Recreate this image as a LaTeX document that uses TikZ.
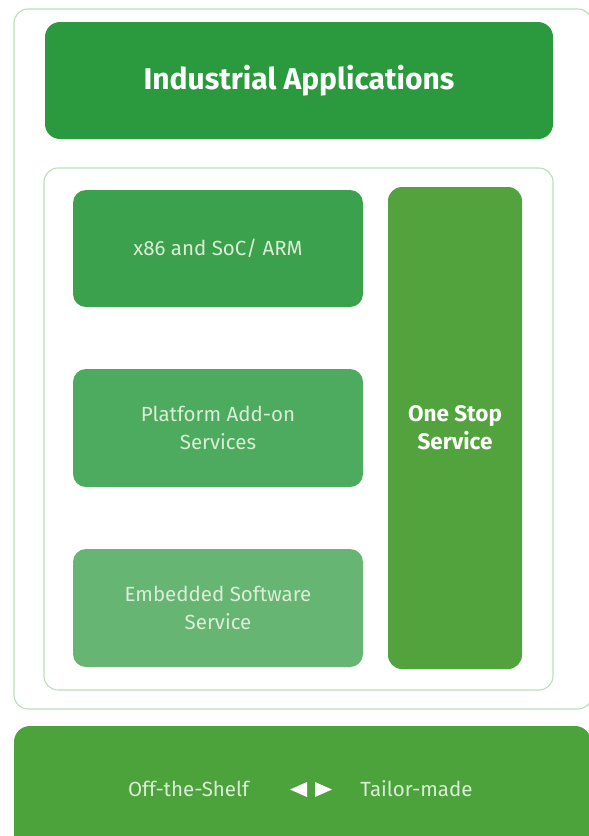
\documentclass[tikz,border=0pt]{standalone}
\usepackage{fontspec}
\setmainfont{Fira Sans}
\usetikzlibrary{positioning}
\definecolor{indgreen}{rgb}{0.17,0.6,0.24}
\definecolor{cpugreen}{rgb}{0.23,0.63,0.3}
\definecolor{platgreen}{rgb}{0.3,0.67,0.37}
\definecolor{embgreen}{rgb}{0.4,0.71,0.45}
\definecolor{onegreen}{rgb}{0.32,0.64,0.24}
\definecolor{shelfgreen}{rgb}{0.3,0.64,0.23}
\definecolor{framegreen}{rgb}{0.72,0.87,0.73}
\definecolor{txtgreen}{rgb}{0.86,0.93,0.84}

\begin{document}
\begin{tikzpicture}[line cap=round,line join=round,x=1pt,y=1pt,
  box/.style={rounded corners=13pt,inner sep=0pt,align=center,text=txtgreen,
    font=\fontsize{20.5}{28}\selectfont},
  boldbox/.style={box,text=white,font=\bfseries\fontsize{22.5}{28}\selectfont},
  frame/.style={draw=framegreen,line width=1.1pt,rounded corners=14pt}]
\useasboundingbox (0,0) rectangle (589,-836);
\clip (0,0) rectangle (589,-836);
% frames
\draw [frame] (14,-9) rectangle (592,-709);
\draw [frame] (44,-168) rectangle (553,-690);
% top block
\node[boldbox,fill=indgreen,minimum width=508,minimum height=117,rounded corners=15pt,
  font=\bfseries\fontsize{30}{34}\selectfont] (ind) at (299,-80.5) {Industrial Applications};
% left column
\node[box,fill=cpugreen,minimum width=290,minimum height=117] (cpu) at (218,-248.5) {x86 and SoC/ ARM};
\node[box,fill=platgreen,minimum width=290,minimum height=118] (plat) at (218,-428) {Platform Add-on\\Services};
\node[box,fill=embgreen,minimum width=290,minimum height=118] (emb) at (218,-608) {Embedded Software\\Service};
% right column
\node[boldbox,fill=onegreen,minimum width=134,minimum height=482,rounded corners=14pt] (one) at (455,-428) {One Stop\\Service};
% bottom band
\node[box,fill=shelfgreen,minimum width=577,minimum height=124,rounded corners=16pt] (shelf) at (302.5,-788) {};
\node[text=txtgreen,font=\fontsize{20.5}{28}\selectfont] (off) at (188.5,-789) {Off-the-Shelf};
\node[text=txtgreen,font=\fontsize{20.5}{28}\selectfont] (tailor) at (416.5,-789) {Tailor-made};
\coordinate (mid) at (311,-789.5);
\fill [white] ([xshift=-21]mid) -- ([xshift=-4,yshift=7.5]mid) -- ([xshift=-4,yshift=-7.5]mid) -- cycle;
\fill [white] ([xshift=21]mid) -- ([xshift=4,yshift=7.5]mid) -- ([xshift=4,yshift=-7.5]mid) -- cycle;
\end{tikzpicture}
\end{document}
